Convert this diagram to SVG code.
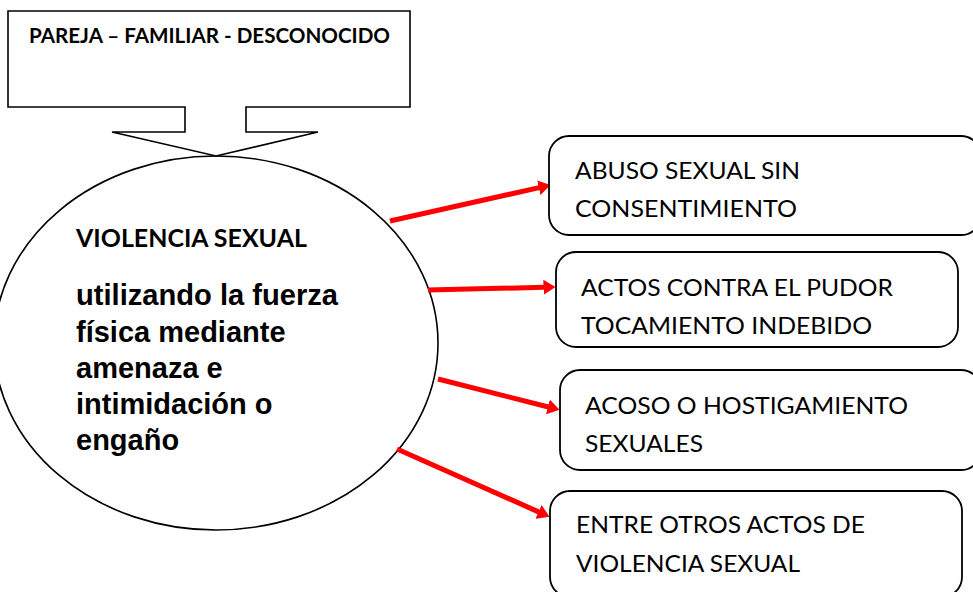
<svg xmlns="http://www.w3.org/2000/svg" width="973" height="592" viewBox="0 0 973 592">
<style>
.shape{fill:#fff;stroke:#000;stroke-width:1.6}
.box{fill:#fff;stroke:#000;stroke-width:1.8}
.cal{font-family:Lato,"Liberation Sans",sans-serif;fill:#000}
.calb{font-family:Lato,"Liberation Sans",sans-serif;font-weight:bold;fill:#000}
.ar{font-family:"Liberation Sans",Arial,sans-serif;font-weight:bold;font-size:29px;fill:#000}
.conn{stroke:#ff0000;stroke-width:5;fill:none}
</style>
<defs>
<marker id="ah" markerUnits="userSpaceOnUse" viewBox="0 0 12 16" markerWidth="12" markerHeight="16" refX="0.5" refY="8" orient="auto">
<path d="M0,0.5 L12,8 L0,15.5 Z" fill="#ff0000"/>
</marker>
</defs>
<rect width="973" height="592" fill="#fff"/>
<g id="violencia">
<ellipse class="shape" cx="216" cy="343" rx="222" ry="187"/>
<text class="calb" x="76" y="247" font-size="24" textLength="231" lengthAdjust="spacingAndGlyphs">VIOLENCIA SEXUAL</text>
<text class="ar" x="76" y="305" textLength="262" lengthAdjust="spacingAndGlyphs">utilizando la fuerza</text>
<text class="ar" x="76" y="342">física mediante</text>
<text class="ar" x="76" y="378">amenaza e</text>
<text class="ar" x="76" y="414">intimidación o</text>
<text class="ar" x="76" y="450">engaño</text>
</g>
<g id="agresor">
<path class="shape" d="M8,11 H410 V107 H246 V132 H318 L216,156 L112,132 H185 V107 H8 Z"/>
<text class="calb" x="29" y="43" font-size="20" textLength="361" lengthAdjust="spacingAndGlyphs">PAREJA – FAMILIAR - DESCONOCIDO</text>
</g>
<g id="connectors">
<line class="conn" x1="390" y1="221" x2="539.3" y2="187.6" marker-end="url(#ah)"/>
<line class="conn" x1="428" y1="290" x2="544" y2="287.3" marker-end="url(#ah)"/>
<line class="conn" x1="438" y1="379" x2="548.4" y2="407" marker-end="url(#ah)"/>
<line class="conn" x1="397" y1="449" x2="539" y2="512.1" marker-end="url(#ah)"/>
</g>
<g id="abuso">
<rect class="box" x="549" y="136" width="432" height="99" rx="20"/>
<text class="cal" x="575" y="179" font-size="23" textLength="225" lengthAdjust="spacingAndGlyphs">ABUSO SEXUAL SIN</text>
<text class="cal" x="575" y="217" font-size="23" textLength="222" lengthAdjust="spacingAndGlyphs">CONSENTIMIENTO</text>
</g>
<g id="actos">
<rect class="box" x="556" y="252" width="402" height="95" rx="20"/>
<text class="cal" x="581" y="296" font-size="23" textLength="312" lengthAdjust="spacingAndGlyphs">ACTOS CONTRA EL PUDOR</text>
<text class="cal" x="581" y="334" font-size="23" textLength="291" lengthAdjust="spacingAndGlyphs">TOCAMIENTO INDEBIDO</text>
</g>
<g id="acoso">
<rect class="box" x="560" y="370" width="421" height="100" rx="20"/>
<text class="cal" x="585" y="414" font-size="23" textLength="323" lengthAdjust="spacingAndGlyphs">ACOSO O HOSTIGAMIENTO</text>
<text class="cal" x="585" y="452" font-size="23" textLength="118" lengthAdjust="spacingAndGlyphs">SEXUALES</text>
</g>
<g id="otros">
<rect class="box" x="550" y="491" width="412" height="106" rx="20"/>
<text class="cal" x="576" y="533" font-size="23" textLength="289" lengthAdjust="spacingAndGlyphs">ENTRE OTROS ACTOS DE</text>
<text class="cal" x="576" y="572" font-size="23" textLength="224" lengthAdjust="spacingAndGlyphs">VIOLENCIA SEXUAL</text>
</g>
</svg>
